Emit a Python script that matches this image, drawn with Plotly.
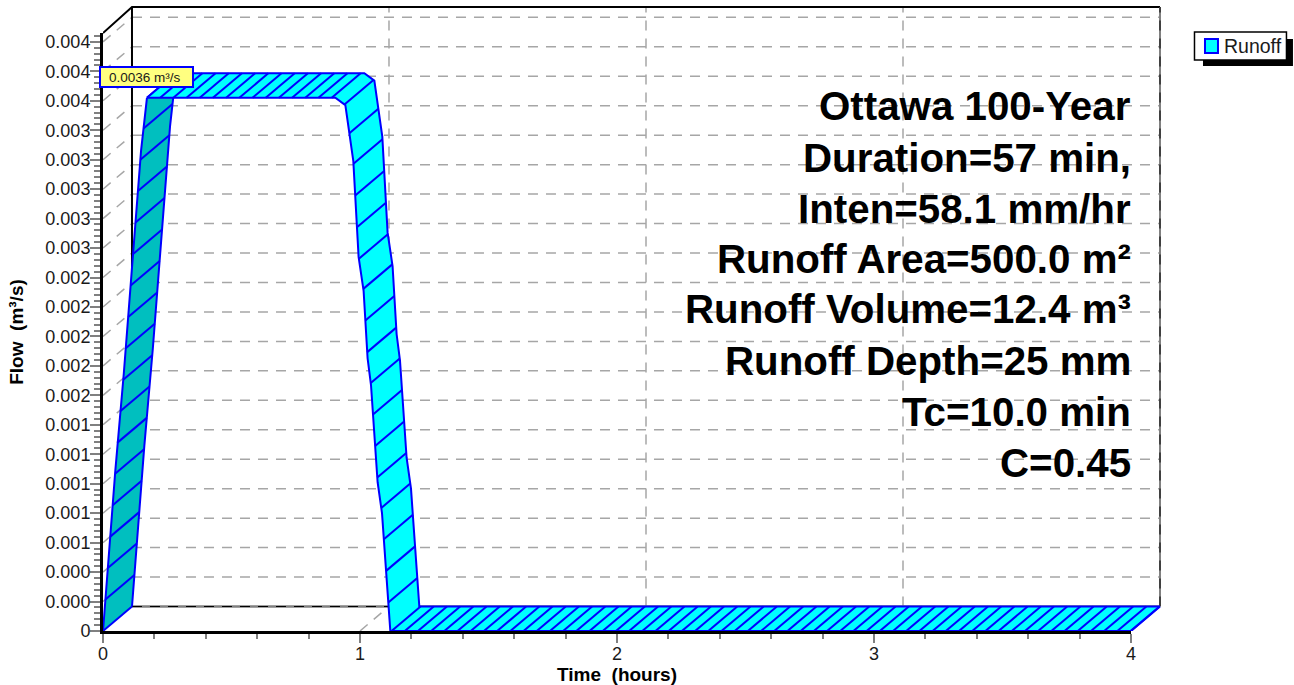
import math
import plotly.graph_objects as go

# ---- data ----
time_hours = [0, 0.048, 0.081, 0.119, 0.148, 0.171, 0.904, 0.943, 0.974, 0.9945,
              1.014, 1.0296, 1.0428, 1.0685, 1.0856, 1.118, 4.0]
flow_cms = [0, 0.00109, 0.00175, 0.00260, 0.00326, 0.00362, 0.00362, 0.00357, 0.00319, 0.00254,
            0.00231, 0.00185, 0.00167, 0.00101, 0.00080, 0, 0]
y_tick_vals = [0, 0.0002, 0.0004, 0.0006, 0.0008, 0.0010, 0.0012, 0.0014, 0.0016, 0.0018, 0.0020,
               0.0022, 0.0024, 0.0026, 0.0028, 0.0030, 0.0032, 0.0034, 0.0036, 0.0038, 0.0040]
y_tick_text = ["0", "0.000", "0.000", "0.001", "0.001", "0.001", "0.001", "0.001", "0.002", "0.002", "0.002",
               "0.002", "0.002", "0.003", "0.003", "0.003", "0.003", "0.003", "0.004", "0.004", "0.004"]
x_tick_vals = [0, 1, 2, 3, 4]
x_tick_text = ["0", "1", "2", "3", "4"]
info_lines = ["Ottawa 100-Year", "Duration=57 min,", "Inten=58.1 mm/hr", "Runoff Area=500.0 m²",
              "Runoff Volume=12.4 m³", "Runoff Depth=25 mm", "Tc=10.0 min", "C=0.45"]
peak_label = "0.0036 m³/s"
series_name = "Runoff"

# ---- layout geometry ----
W, H = 1294, 685
LEFT, RIGHT_PX, TOP, BOTTOM_PX = 102.7, 1131.0, 33.0, 631.0   # the front axes
AREA_RIGHT, AREA_TOP = 1163.0, 3.0                            # room for the box behind them
X_MAX, Y_MAX = 4.0, 0.00406
PX_PER_X = (RIGHT_PX - LEFT) / X_MAX
PX_PER_Y = (BOTTOM_PX - TOP) / Y_MAX
DX = 29.0 / PX_PER_X     # depth of the pseudo-3D box in axis units
DY = 24.5 / PX_PER_Y
BOX_TOP = Y_MAX + 26.0 / PX_PER_Y
FONT = "Liberation Sans, Arial, sans-serif"
BLUE, CYAN, TEAL = "#0000FF", "#00FFFF", "#00BFBF"
GRID = "#A6A6A6"
RISE_END = 5  # index of the last point on the rising limb


def px(x):
    return (x - LEFT) / (AREA_RIGHT - LEFT)


def py(y):
    return (BOTTOM_PX - y) / (BOTTOM_PX - AREA_TOP)


def hatch_points(xs, ys, step_x=13.2, step_y=32.0):
    """Points spaced along the path at which a hatch line crosses the ribbon."""
    out, carry = [], 0.0
    for i in range(len(xs) - 1):
        ax, ay, bx, by = xs[i], ys[i], xs[i + 1], ys[i + 1]
        length = math.hypot((bx - ax) * PX_PER_X / step_x, (by - ay) * PX_PER_Y / step_y)
        if length == 0:
            continue
        d = 1.0 - carry
        while d <= length:
            f = d / length
            out.append((ax + (bx - ax) * f, ay + (by - ay) * f))
            d += 1.0
        carry = length - (d - 1.0)
    return out


COMMON = dict(xaxis="x2", yaxis="y2", hoverinfo="skip", showlegend=False)


def ribbon(fig, xs, ys, color):
    back_x = [x + DX for x in xs]
    back_y = [y + DY for y in ys]
    fig.add_trace(go.Scatter(x=xs + back_x[::-1], y=ys + back_y[::-1], mode="lines", fill="toself",
                             fillcolor=color, line=dict(width=0, color=color), **COMMON))
    lx, ly = list(xs) + [None] + back_x + [None], list(ys) + [None] + back_y + [None]
    caps = [(xs[0], ys[0]), (xs[-1], ys[-1])] + hatch_points(xs, ys)
    for cx, cy in caps:
        lx += [cx, cx + DX, None]
        ly += [cy, cy + DY, None]
    fig.add_trace(go.Scatter(x=lx, y=ly, mode="lines", line=dict(color=BLUE, width=2), **COMMON))


def seg(fig, xs, ys, color, width, dash="solid"):
    fig.add_trace(go.Scatter(x=xs, y=ys, mode="lines", line=dict(color=color, width=width, dash=dash), **COMMON))


fig = go.Figure()

# keeps the front axes alive (they carry the ticks and titles)
fig.add_trace(go.Scatter(x=[None], y=[None], mode="lines", xaxis="x", yaxis="y", hoverinfo="skip", showlegend=False))

# grid on the back wall, the side wall and the floor
dash = "10px,8px"
gx, gy = [], []
for v in y_tick_vals[1:]:
    gx += [DX, X_MAX + DX, None, 0, DX, None]
    gy += [v + DY, v + DY, None, v, v + DY, None]
for v in x_tick_vals[1:-1]:
    gx += [v + DX, v + DX, None, v, v + DX, None]
    gy += [DY, BOX_TOP, None, 0, DY, None]
seg(fig, gx, gy, GRID, 1.5, dash)

# box frame
seg(fig, [0, DX, X_MAX + DX], [Y_MAX, BOX_TOP, BOX_TOP], "#000000", 2)
seg(fig, [DX, DX], [DY, BOX_TOP], "#000000", 2)
seg(fig, [DX, X_MAX + DX], [DY, DY], "#808080", 2.5)
seg(fig, [DX, X_MAX + DX], [DY, DY], "#000000", 1, "10px,8px")
seg(fig, [X_MAX + DX, X_MAX + DX], [DY, BOX_TOP], "#808080", 2)
seg(fig, [X_MAX + DX, X_MAX + DX], [DY, BOX_TOP], "#000000", 1, "10px,8px")

# the hydrograph ribbon
ribbon(fig, time_hours[:RISE_END + 1], flow_cms[:RISE_END + 1], TEAL)
ribbon(fig, time_hours[RISE_END:], flow_cms[RISE_END:], CYAN)

# ---- annotations ----
annotations = []
line_centres = [107, 158, 209, 259, 310, 361, 412, 463]
for text, yc in zip(info_lines, line_centres):
    annotations.append(dict(text=f"<b>{text}</b>", xref="paper", yref="paper", x=px(RIGHT_PX), y=py(yc),
                            xanchor="right", yanchor="middle", showarrow=False, xshift=2,
                            font=dict(family=FONT, size=40.3, color="#000000")))
annotations.append(dict(text=peak_label + "\u00a0", xref="paper", yref="paper", x=px(146.5), y=py(77),
                        xanchor="center", yanchor="middle", showarrow=False, width=91, height=18,
                        bgcolor="#FFFF80", bordercolor=BLUE, borderwidth=2, borderpad=0,
                        font=dict(family=FONT, size=13.5, color="#1a1a1a")))
annotations.append(dict(text=series_name, xref="paper", yref="paper", x=px(1223.5), y=py(46),
                        xanchor="left", yanchor="middle", showarrow=False, xshift=-1,
                        font=dict(family=FONT, size=19.5, color="#1a1a1a")))


def rect(x0, y0, x1, y1, fill, line=None, width=0):
    return dict(type="rect", xref="paper", yref="paper", x0=px(x0), x1=px(x1), y0=py(y0), y1=py(y1),
                fillcolor=fill, line=dict(color=line or fill, width=width), layer="above")


shapes = [rect(1203, 39, 1293, 66, "#000000"),
          rect(1194.5, 32, 1286.5, 60, "#FFFFFF", "#000000", 1.5),
          rect(1205, 39, 1218, 53, CYAN, BLUE, 2)]

fig.update_layout(
    width=W, height=H, autosize=False, showlegend=False,
    paper_bgcolor="#FFFFFF", plot_bgcolor="rgba(0,0,0,0)",
    margin=dict(l=LEFT, r=W - AREA_RIGHT, t=AREA_TOP, b=H - BOTTOM_PX, pad=0, autoexpand=False),
    font=dict(family=FONT, color="#1a1a1a"),
    annotations=annotations, shapes=shapes,
    xaxis=dict(domain=[0, px(RIGHT_PX)], anchor="y", range=[0, X_MAX], showgrid=False, zeroline=False,
               showline=True, linecolor="#000000", linewidth=3,
               tickmode="array", tickvals=x_tick_vals, ticktext=x_tick_text, ticks="outside", ticklen=9,
               ticklabelstandoff=-5,
               tickcolor="#808080", tickwidth=2, tickfont=dict(size=18, family=FONT, color="#1a1a1a"),
               minor=dict(tickmode="linear", tick0=0, dtick=0.2, ticks="outside", ticklen=5,
                          tickcolor="#808080", tickwidth=2, showgrid=False),
               title=dict(text="<b>Time\u00a0\u00a0(hours)</b>", font=dict(size=19, family=FONT, color="#000000"), standoff=7)),
    yaxis=dict(domain=[0, py(TOP)], anchor="x", range=[0, Y_MAX], showgrid=False, zeroline=False,
               showline=True, linecolor="#000000", linewidth=3,
               tickmode="array", tickvals=y_tick_vals, ticktext=y_tick_text, ticks="outside", ticklen=10,
               ticklabelstandoff=-4,
               tickcolor="#808080", tickwidth=2, tickfont=dict(size=18, family=FONT, color="#1a1a1a"),
               minor=dict(tickmode="linear", tick0=0, dtick=0.00004, ticks="outside", ticklen=6,
                          tickcolor="#808080", tickwidth=1.5, showgrid=False),
               title=dict(text="<b>Flow\u00a0\u00a0(m³/s)</b>", font=dict(size=19, family=FONT, color="#000000"), standoff=17)),
    xaxis2=dict(domain=[0, 1], anchor="y2", range=[0, (AREA_RIGHT - LEFT) / PX_PER_X], visible=False),
    yaxis2=dict(domain=[0, 1], anchor="x2", range=[0, (BOTTOM_PX - AREA_TOP) / PX_PER_Y], visible=False),
)

fig.write_html("out.html", config=dict(displayModeBar=False), post_script="document.body.style.margin='0';")
